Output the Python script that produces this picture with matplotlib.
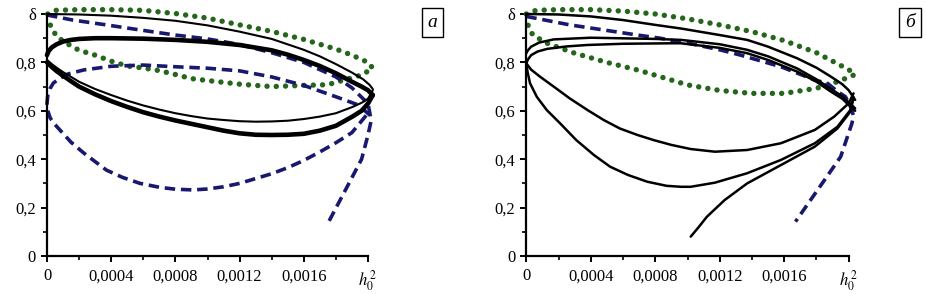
import matplotlib
matplotlib.use("Agg")
import matplotlib.pyplot as plt
from matplotlib.ticker import MultipleLocator, FixedLocator

plt.rcParams['font.family'] = ['Liberation Serif', 'DejaVu Serif']
plt.rcParams['mathtext.fontset'] = 'stix'

# ---- panel a ----
a_top_x = [0, 0.0002, 0.0004, 0.0006, 0.0008, 0.001, 0.0012, 0.0014, 0.0016, 0.0017, 0.0018, 0.0019, 0.00197, 0.00201, 0.00203]
a_top_y = [1.0, 0.998, 0.993, 0.984, 0.972, 0.953, 0.927, 0.897, 0.852, 0.825, 0.793, 0.758, 0.73, 0.707, 0.69]

a_thick_up_x = [0, 0.00001, 0.00003, 0.00006, 0.0001, 0.00015, 0.0002, 0.0003, 0.0004, 0.0006, 0.0008, 0.001, 0.0012,
                0.0014, 0.0015, 0.0016, 0.0017, 0.0018, 0.0019, 0.00196, 0.002, 0.00203]
a_thick_up_y = [0.83, 0.847, 0.862, 0.875, 0.886, 0.893, 0.897, 0.9, 0.900, 0.898, 0.893, 0.885, 0.872,
                0.85, 0.832, 0.81, 0.785, 0.755, 0.72, 0.70, 0.685, 0.665]

a_low_x = [0, 0.00003, 0.00006, 0.0001, 0.00015, 0.0002, 0.0003, 0.0004, 0.0005, 0.0006, 0.0007, 0.0008, 0.0009, 0.001, 0.0011,
           0.0012, 0.0013, 0.0014, 0.0015, 0.0016, 0.0017, 0.0018, 0.0019, 0.00196, 0.002, 0.00203]
a_thin_low_y = [0.81, 0.793, 0.778, 0.76, 0.74, 0.72, 0.69, 0.665, 0.642, 0.622, 0.605, 0.59, 0.578, 0.568, 0.562,
                0.557, 0.555, 0.556, 0.559, 0.566, 0.576, 0.59, 0.615, 0.633, 0.65, 0.685]
a_thick_low_y = [0.80, 0.781, 0.764, 0.745, 0.722, 0.70, 0.668, 0.64, 0.616, 0.594, 0.576, 0.56, 0.546, 0.532, 0.518,
                 0.507, 0.501, 0.50, 0.501, 0.505, 0.518, 0.538, 0.575, 0.60, 0.63, 0.665]

a_green_x = [0.000005, 0.00005, 0.0002, 0.0004, 0.0006, 0.0008, 0.001, 0.0012, 0.0014, 0.0016, 0.0018, 0.0019, 0.002, 0.00203,
             0.00196, 0.00185, 0.00175, 0.0016, 0.0014, 0.0012, 0.001, 0.0009, 0.0008, 0.0007, 0.0006, 0.0005, 0.0004,
             0.0003, 0.0002, 0.00014, 0.00006, 0.00002, 0.000005]
a_green_y = [1.0, 1.015, 1.018, 1.018, 1.015, 1.002, 0.983, 0.955, 0.928, 0.895, 0.855, 0.83, 0.8, 0.776,
             0.748, 0.727, 0.708, 0.705, 0.70, 0.71, 0.725, 0.733, 0.75, 0.766, 0.777, 0.785, 0.805,
             0.83, 0.85, 0.872, 0.906, 0.955, 0.99]

a_blue1_x = [0, 0.00016, 0.00037, 0.00058, 0.0008, 0.001, 0.0012, 0.0014, 0.0016, 0.0018, 0.0019, 0.002, 0.00202, 0.002, 0.00196, 0.00187, 0.00175]
a_blue1_y = [0.996, 0.975, 0.955, 0.934, 0.913, 0.897, 0.874, 0.84, 0.80, 0.74, 0.695, 0.63, 0.56, 0.50, 0.40, 0.286, 0.135]

a_blue2_x = [0.00201, 0.00194, 0.0018, 0.0016, 0.0014, 0.0012, 0.001, 0.0008, 0.0006, 0.0004, 0.00023, 0.00013, 0.00008, 0.00004,
             0.00002, 0.000005, 0, 0.000005, 0.00002, 0.00005, 0.00008, 0.00015, 0.00023, 0.0003, 0.00037, 0.00047, 0.00058,
             0.0007, 0.0008, 0.00091, 0.001, 0.0011, 0.0012, 0.0013, 0.0014, 0.0015, 0.0016, 0.0017, 0.0018, 0.0019, 0.002]
a_blue2_y = [0.583, 0.624, 0.658, 0.705, 0.74, 0.765, 0.776, 0.782, 0.789, 0.784, 0.769, 0.752, 0.734, 0.715,
             0.693, 0.665, 0.63, 0.60, 0.57, 0.543, 0.521, 0.47, 0.425, 0.39, 0.355, 0.325, 0.30,
             0.284, 0.276, 0.273, 0.277, 0.286, 0.30, 0.32, 0.34, 0.365, 0.395, 0.43, 0.468, 0.51, 0.59]

# ---- panel б ----
b_green_x = [0, 0.00006, 0.0002, 0.0004, 0.0006, 0.0008, 0.001, 0.0012, 0.0014, 0.0016, 0.0018, 0.0019, 0.002, 0.00204,
             0.00193, 0.0018, 0.0016, 0.0014, 0.0012, 0.001, 0.0009, 0.0007, 0.0005, 0.0003, 0.00013, 0.00004, 0.00001, 0]
b_green_y = [1.0, 1.015, 1.018, 1.018, 1.012, 1.0, 0.98, 0.955, 0.927, 0.89, 0.84, 0.805, 0.77, 0.75,
             0.72, 0.693, 0.672, 0.672, 0.684, 0.707, 0.727, 0.767, 0.80, 0.838, 0.879, 0.913, 0.955, 0.99]

b_blue_x = [0, 0.00027, 0.00048, 0.00069, 0.00083, 0.001, 0.0012, 0.00133, 0.00158, 0.00179, 0.00187, 0.00193, 0.00198,
            0.00201, 0.00203, 0.00202, 0.00195, 0.00185, 0.00167]
b_blue_y = [0.99, 0.955, 0.934, 0.913, 0.90, 0.88, 0.852, 0.83, 0.782, 0.727, 0.713, 0.68, 0.658,
            0.62, 0.58, 0.548, 0.41, 0.314, 0.142]

b_r1_x = [0, 0.0002, 0.0004, 0.0006, 0.0008, 0.00096, 0.0012, 0.00137, 0.0015, 0.00168, 0.0018, 0.00189, 0.00196, 0.002, 0.00204]
b_r1_y = [1.0, 0.998, 0.99, 0.975, 0.955, 0.94, 0.913, 0.893, 0.865, 0.817, 0.778, 0.741, 0.71, 0.685, 0.645]

b_r2_x = [0, 0.00001, 0.00003, 0.00008, 0.00017, 0.0004, 0.0008, 0.00096, 0.0012, 0.00137, 0.0015, 0.00168, 0.0018, 0.00189, 0.00196, 0.002, 0.00204]
b_r2_y = [0.838, 0.85, 0.865, 0.882, 0.895, 0.902, 0.897, 0.893, 0.875, 0.852, 0.825, 0.775, 0.73, 0.69, 0.66, 0.635, 0.61]

b_r3_x = [0, 0.00001, 0.00003, 0.00007, 0.00013, 0.00025, 0.00038, 0.0006, 0.0009, 0.00096, 0.0012, 0.00137, 0.0015, 0.00168, 0.0018, 0.00189, 0.00196, 0.002, 0.00204]
b_r3_y = [0.796, 0.812, 0.83, 0.845, 0.856, 0.866, 0.872, 0.877, 0.879, 0.879, 0.86, 0.838, 0.81, 0.762, 0.72, 0.679, 0.65, 0.624, 0.60]

b_r4_x = [0, 0.00003, 0.000085, 0.00017, 0.00027, 0.00038, 0.00048, 0.00058, 0.00069, 0.00079, 0.0009, 0.00102, 0.00117,
          0.00137, 0.00158, 0.00179, 0.00191, 0.002, 0.00203]
b_r4_y = [0.796, 0.77, 0.741, 0.70, 0.651, 0.603, 0.562, 0.527, 0.50, 0.479, 0.459, 0.442, 0.431,
          0.438, 0.466, 0.521, 0.576, 0.631, 0.672]

b_r5_x = [0, 0.000008, 0.000023, 0.000065, 0.000127, 0.00021, 0.00031, 0.00042, 0.00052, 0.00063, 0.00075, 0.00087, 0.00096,
          0.00102, 0.00117, 0.00137, 0.00158, 0.00179, 0.00193, 0.00201, 0.00203]
b_r5_y = [0.796, 0.76, 0.714, 0.658, 0.603, 0.548, 0.479, 0.417, 0.369, 0.335, 0.307, 0.29, 0.286,
          0.286, 0.303, 0.342, 0.397, 0.466, 0.534, 0.603, 0.655]

b_r6_x = [0.00102, 0.00107, 0.00112, 0.00123, 0.00137, 0.00158, 0.00179, 0.00193, 0.00201, 0.00203]
b_r6_y = [0.08, 0.12, 0.162, 0.231, 0.30, 0.376, 0.452, 0.527, 0.596, 0.655]

xtick_vals = [0, 0.0004, 0.0008, 0.0012, 0.0016, 0.002]
xtick_labels = ['0', '0,0004', '0,0008', '0,0012', '0,0016', r'$h_0^{\,2}$']
ytick_vals = [0, 0.2, 0.4, 0.6, 0.8, 1.0]
ytick_labels = ['0', '0,2', '0,4', '0,6', '0,8', 'δ']

green = '#24661a'
blue = '#18186e'
dotted = dict(color=green, lw=3.9, linestyle=(0, (0.01, 1.7)), dash_capstyle='round', clip_on=False)
dashed = dict(color=blue, lw=2.6, linestyle=(0, (2.9, 1.6)), clip_on=False)
black_kw = dict(color='black', clip_on=False, solid_joinstyle='round', solid_capstyle='round')

fig = plt.figure(figsize=(9.26, 2.94), dpi=100)
axa = fig.add_axes([47/926, 38/294, 321/926, 242/294])
axb = fig.add_axes([526.3/926, 38/294, 322.4/926, 242/294])


def style(ax):
    ax.set_xlim(0, 0.002)
    ax.set_ylim(0, 1.0)
    for s in ['top', 'right']:
        ax.spines[s].set_visible(False)
    for s in ['left', 'bottom']:
        ax.spines[s].set_linewidth(1.6)
    ax.xaxis.set_major_locator(FixedLocator(xtick_vals))
    ax.set_xticklabels(xtick_labels)
    ax.yaxis.set_major_locator(FixedLocator(ytick_vals))
    ax.set_yticklabels(ytick_labels)
    ax.xaxis.set_minor_locator(MultipleLocator(0.0002))
    ax.yaxis.set_minor_locator(MultipleLocator(0.1))
    ax.tick_params(which='major', length=4, width=1.4, labelsize=12, pad=5, colors='black')
    ax.tick_params(which='minor', length=3, width=1.2)
    ax.tick_params(axis='y', pad=4)


# panel a
axa.plot(a_green_x, a_green_y, **dotted)
axa.plot(a_blue1_x, a_blue1_y, **dashed)
axa.plot(a_blue2_x, a_blue2_y, **dashed)
axa.plot(a_top_x, a_top_y, lw=1.5, **black_kw)
axa.plot(a_low_x, a_thin_low_y, lw=1.5, **black_kw)
axa.plot(a_thick_up_x, a_thick_up_y, lw=3.3, **black_kw)
axa.plot(a_low_x, a_thick_low_y, lw=3.3, **black_kw)
style(axa)

# panel б
axb.plot(b_green_x, b_green_y, **dotted)
axb.plot(b_blue_x, b_blue_y, **dashed)
for xs, ys in [(b_r1_x, b_r1_y), (b_r2_x, b_r2_y), (b_r3_x, b_r3_y),
               (b_r4_x, b_r4_y), (b_r5_x, b_r5_y), (b_r6_x, b_r6_y)]:
    axb.plot(xs, ys, lw=1.8, **black_kw)
style(axb)

box = dict(boxstyle='square,pad=0.3', fc='white', ec='black', lw=1.0)
fig.text(432.4/926, 1 - 22.4/294, 'а', fontsize=14, style='italic', ha='center', va='center', bbox=box)
fig.text(910/926, 1 - 22.5/294, 'б', fontsize=14, style='italic', ha='center', va='center', bbox=box)

fig.savefig('out.png', dpi=100)
